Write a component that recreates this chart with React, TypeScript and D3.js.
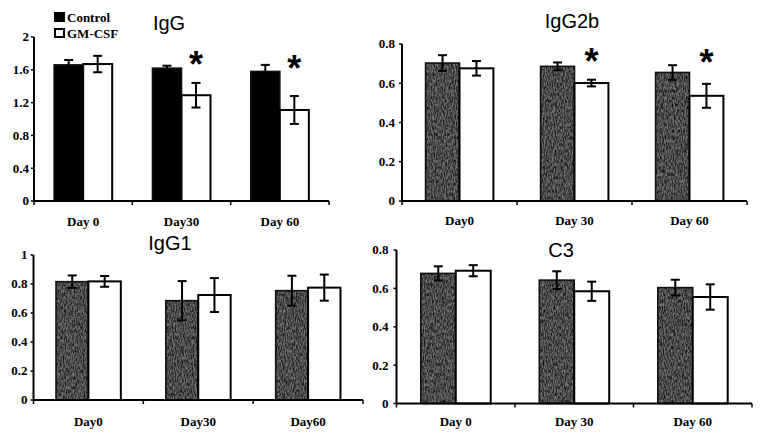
import React from "react";
import * as d3 from "d3";

// ---------- data ----------
const seriesNames = ["Control", "GM-CSF"];

const iggDays = ["Day 0", "Day30", "Day 60"];
const iggControl = [1.66, 1.62, 1.58];
const iggControlErr = [0.06, 0.03, 0.08];
const iggGm = [1.67, 1.29, 1.11];
const iggGmErr = [0.1, 0.15, 0.17];
const iggTicks = [0, 0.4, 0.8, 1.2, 1.6, 2];
const iggStarDays = ["Day30", "Day 60"];
const iggStarLevels = [1.79, 1.73];

const igg2bDays = ["Day0", "Day 30", "Day 60"];
const igg2bControl = [0.703, 0.686, 0.655];
const igg2bControlErr = [0.04, 0.02, 0.037];
const igg2bGm = [0.676, 0.601, 0.536];
const igg2bGmErr = [0.037, 0.017, 0.061];
const igg2bTicks = [0, 0.2, 0.4, 0.6, 0.8];
const igg2bStarDays = ["Day 30", "Day 60"];
const igg2bStarLevels = [0.76, 0.755];

const igg1Days = ["Day0", "Day30", "Day60"];
const igg1Control = [0.816, 0.685, 0.754];
const igg1ControlErr = [0.043, 0.135, 0.103];
const igg1Gm = [0.818, 0.724, 0.775];
const igg1GmErr = [0.037, 0.117, 0.09];
const igg1Ticks = [0, 0.2, 0.4, 0.6, 0.8, 1];

const c3Days = ["Day 0", "Day 30", "Day 60"];
const c3Control = [0.678, 0.643, 0.604];
const c3ControlErr = [0.037, 0.046, 0.041];
const c3Gm = [0.692, 0.585, 0.555];
const c3GmErr = [0.029, 0.05, 0.066];
const c3Ticks = [0, 0.2, 0.4, 0.6, 0.8];

// ---------- layout ----------
type Layout = {
  left: number; right: number; bottom: number; top: number;
  titleX: number; titleY: number; xLabelY: number; labelGap: number;
};

const panels = [
  {
    title: "IgG", days: iggDays, control: iggControl, controlErr: iggControlErr,
    gm: iggGm, gmErr: iggGmErr, ticks: iggTicks, starDays: iggStarDays, starLevels: iggStarLevels,
    solid: true,
    layout: { left: 34, right: 329, bottom: 201, top: 37, titleX: 169, titleY: 30, xLabelY: 226, labelGap: 5 } as Layout,
  },
  {
    title: "IgG2b", days: igg2bDays, control: igg2bControl, controlErr: igg2bControlErr,
    gm: igg2bGm, gmErr: igg2bGmErr, ticks: igg2bTicks, starDays: igg2bStarDays, starLevels: igg2bStarLevels,
    solid: false,
    layout: { left: 402, right: 747, bottom: 201, top: 44, titleX: 572, titleY: 28, xLabelY: 225, labelGap: 7 } as Layout,
  },
  {
    title: "IgG1", days: igg1Days, control: igg1Control, controlErr: igg1ControlErr,
    gm: igg1Gm, gmErr: igg1GmErr, ticks: igg1Ticks, starDays: [] as string[], starLevels: [] as number[],
    solid: false,
    layout: { left: 33.5, right: 363, bottom: 400, top: 255, titleX: 170, titleY: 250, xLabelY: 426, labelGap: 6 } as Layout,
  },
  {
    title: "C3", days: c3Days, control: c3Control, controlErr: c3ControlErr,
    gm: c3Gm, gmErr: c3GmErr, ticks: c3Ticks, starDays: [] as string[], starLevels: [] as number[],
    solid: false,
    layout: { left: 396.5, right: 752, bottom: 403.5, top: 250, titleX: 561, titleY: 257, xLabelY: 426, labelGap: 8 } as Layout,
  },
];

const serif = "'Liberation Serif', 'Times New Roman', serif";
const sans = "'Liberation Sans', Arial, sans-serif";

function Panel({ p, idx }: { p: (typeof panels)[number]; idx: number }) {
  const L = p.layout;
  const yMax = p.ticks[p.ticks.length - 1];
  const y = d3.scaleLinear().domain([0, yMax]).range([L.bottom, L.top]);
  const x = d3.scaleBand<string>().domain(p.days).range([L.left, L.right]).paddingInner(0.41).paddingOuter(0.205);
  const xs = d3.scaleBand<string>().domain(seriesNames).range([0, x.bandwidth()]);
  const step = (L.right - L.left) / p.days.length;
  const boundaries = d3.range(p.days.length + 1).map((i) => L.left + i * step);
  const cap = 4.5;

  const bars = p.days.flatMap((d, i) => [
    { day: d, s: "Control", v: p.control[i], e: p.controlErr[i] },
    { day: d, s: "GM-CSF", v: p.gm[i], e: p.gmErr[i] },
  ]);

  return (
    <g>
      {/* bars */}
      {bars.map((b, k) => {
        const bx = (x(b.day) as number) + (xs(b.s) as number);
        const bw = xs.bandwidth();
        const by = y(b.v);
        const bh = L.bottom - by;
        if (b.s === "Control") {
          return (
            <g key={"b" + k}>
              <rect x={bx} y={by} width={bw} height={bh} fill={p.solid ? "#000" : "#727272"} />
              {!p.solid && (
                <rect x={bx} y={by} width={bw} height={bh} fill="#000" filter={`url(#grain${idx})`} />
              )}
              <rect x={bx} y={by} width={bw} height={bh} fill="none" stroke="#111" strokeWidth={1.6} />
            </g>
          );
        }
        return (
          <rect key={"b" + k} x={bx} y={by} width={bw} height={bh} fill="#fff" stroke="#000" strokeWidth={2} />
        );
      })}
      {/* error bars */}
      {bars.map((b, k) => {
        const cx = (x(b.day) as number) + (xs(b.s) as number) + xs.bandwidth() / 2;
        const y1 = y(b.v + b.e);
        const y2 = y(b.v - b.e);
        return (
          <g key={"e" + k} stroke="#000" strokeWidth={2}>
            <line x1={cx} x2={cx} y1={y1} y2={y2} />
            <line x1={cx - cap} x2={cx + cap} y1={y1} y2={y1} />
            <line x1={cx - cap} x2={cx + cap} y1={y2} y2={y2} />
          </g>
        );
      })}
      {/* y axis */}
      <line x1={L.left} x2={L.left} y1={L.bottom} y2={y(yMax)} stroke="#000" strokeWidth={2} />
      {p.ticks.map((t) => (
        <g key={"t" + t}>
          <line x1={L.left - 3} x2={L.left} y1={y(t)} y2={y(t)} stroke="#000" strokeWidth={1.5} />
          <text
            x={L.left - L.labelGap}
            y={y(t)}
            dy="0.34em"
            textAnchor="end"
            fontFamily={serif}
            fontWeight="bold"
            fontSize={13}
          >
            {String(t)}
          </text>
        </g>
      ))}
      {/* x axis */}
      <line x1={L.left} x2={L.right} y1={L.bottom} y2={L.bottom} stroke="#000" strokeWidth={2} />
      {boundaries.map((bx, i) => (
        <line key={"xt" + i} x1={bx} x2={bx} y1={L.bottom} y2={L.bottom + 4} stroke="#000" strokeWidth={1.5} />
      ))}
      {p.days.map((d) => (
        <text
          key={"xl" + d}
          x={(x(d) as number) + x.bandwidth() / 2}
          y={L.xLabelY}
          textAnchor="middle"
          fontFamily={serif}
          fontWeight="bold"
          fontSize={13}
        >
          {d}
        </text>
      ))}
      {/* title */}
      <text x={L.titleX} y={L.titleY} textAnchor="middle" fontFamily={sans} fontSize={20}>
        {p.title}
      </text>
      {/* significance stars */}
      {p.starDays.map((d, i) => (
        <text
          key={"s" + d}
          x={(x(d) as number) + (xs("GM-CSF") as number) + xs.bandwidth() / 2}
          y={y(p.starLevels[i])}
          dy="0.62em"
          textAnchor="middle"
          fontFamily={sans}
          fontWeight="bold"
          fontSize={36}
        >
          *
        </text>
      ))}
    </g>
  );
}

export default function App() {
  return (
    <svg
      width={762}
      height={438}
      style={{ position: "absolute", left: 0, top: 0, background: "#fff" }}
    >
      <defs>
        {panels.map((_, i) => (
          <filter key={i} id={`grain${i}`} x="0" y="0" width="1" height="1" filterUnits="objectBoundingBox">
            <feTurbulence type="fractalNoise" baseFrequency="0.9 0.3" numOctaves={3} seed={i + 2} result="n" />
            <feColorMatrix
              in="n"
              type="matrix"
              values="0 0 0 0 0  0 0 0 0 0  0 0 0 0 0  1.7 0 0 0 -0.5"
            />
          </filter>
        ))}
      </defs>
      <rect x={0} y={0} width={762} height={438} fill="#fff" />
      {/* legend */}
      <rect x={54} y={12} width={11} height={10} fill="#000" />
      <text x={67} y={21.5} fontFamily={serif} fontWeight="bold" fontSize={13}>
        {seriesNames[0]}
      </text>
      <rect x={55} y={29} width={9} height={8} fill="#fff" stroke="#000" strokeWidth={2} />
      <text x={67} y={37.5} fontFamily={serif} fontWeight="bold" fontSize={13}>
        {seriesNames[1]}
      </text>
      {panels.map((p, i) => (
        <Panel key={p.title} p={p} idx={i} />
      ))}
    </svg>
  );
}
